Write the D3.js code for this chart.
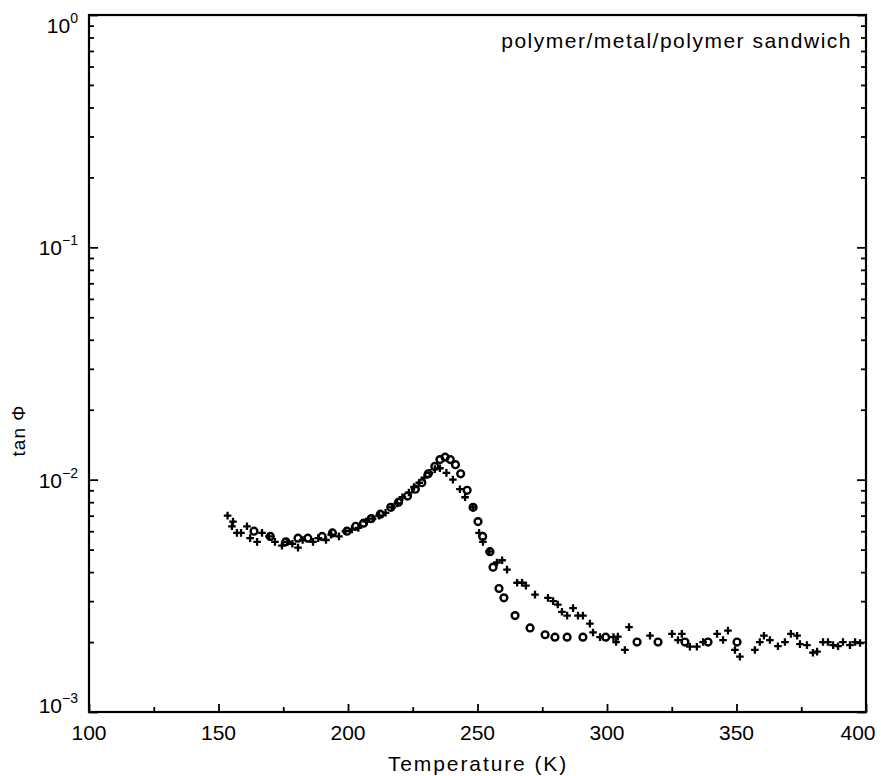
<!DOCTYPE html>
<html><head><meta charset="utf-8">
<script src="https://cdn.jsdelivr.net/npm/d3@7"></script>
<style>
body{margin:0;background:#fff}
text{font-family:"Liberation Sans",Arial,Helvetica,sans-serif;fill:#000}
</style>
</head><body>
<svg id="c" width="881" height="776"></svg>
<script>
// ---- data ----
const circleT=[163.7,170,176,180.7,184.5,190,194,199.6,203,206,209,212.5,216.5,219.5,223,226,228.5,231,233.5,235.5,237.5,239.5,241.5,243.5,246,248.3,250.2,252,254.8,256,258.3,260.2,264.5,270.3,276.1,279.9,284.6,290.7,299.5,311.6,319.7,330.1,339,350.2];
const circleV=[0.0060,0.0057,0.0054,0.0056,0.0056,0.0057,0.0059,0.0060,0.0063,0.0065,0.0068,0.0071,0.0076,0.0080,0.0085,0.0091,0.0097,0.0106,0.0114,0.0122,0.0125,0.0122,0.0116,0.0106,0.0090,0.0076,0.0066,0.0057,0.0049,0.0042,0.0034,0.0031,0.0026,0.0023,0.00215,0.0021,0.0021,0.0021,0.0021,0.0020,0.0020,0.0020,0.0020,0.0020];
const crossT=[153.5,155.6,155.2,157.1,158.7,161,162.2,164.9,166.8,169.5,171.8,174.5,176.5,178.5,180.7,182.5,186.5,188.5,191.5,193.5,196.5,199,201.5,204,207,209.5,212,214.5,217,219,221,223.5,225.5,227.5,229.5,231.5,233.5,235.5,238,240.5,243.2,245.2,248.3,250.6,252.1,254.5,257.5,259.5,261.4,265.3,267.2,268.7,272.2,277.2,279.2,281,282.6,284.6,286.9,288.8,290.7,293.4,294.6,297.3,302.5,303.5,304.2,306.9,308.5,316.6,325.1,327.4,328.9,332,334.7,337.1,342.5,344.8,346.7,349.4,351.3,357.1,359,360.6,362.9,366,368.7,371,373.4,374.5,377.2,379.5,381.1,383.4,385.3,387.3,389.2,391.1,393.8,395.8,397.7];
const crossV=[0.0070,0.0066,0.0063,0.0059,0.0059,0.0063,0.0056,0.0054,0.0059,0.0057,0.0054,0.0052,0.0054,0.0053,0.0051,0.0055,0.0054,0.0056,0.0055,0.0058,0.0057,0.0060,0.0061,0.0062,0.0066,0.0068,0.0070,0.0072,0.0076,0.0079,0.0084,0.0088,0.0093,0.0097,0.0102,0.0107,0.0111,0.0112,0.0107,0.0100,0.0091,0.0084,0.0076,0.0059,0.0054,0.0049,0.0044,0.0045,0.0041,0.0036,0.0036,0.0035,0.0032,0.0031,0.0030,0.0029,0.0027,0.0026,0.0028,0.0026,0.0026,0.0024,0.0022,0.0021,0.0021,0.0020,0.00211,0.00185,0.00232,0.00213,0.00217,0.00204,0.00217,0.00191,0.00191,0.00200,0.00217,0.00204,0.00224,0.00185,0.00173,0.00185,0.00200,0.00213,0.00204,0.00192,0.00200,0.00217,0.00213,0.00196,0.00194,0.00180,0.00182,0.00200,0.00200,0.00194,0.00192,0.00200,0.00194,0.00200,0.00198];
const xMajor=[100,150,200,250,300,350,400];
const xMinor=[125,175,225,275,325,375];
const yMajor=[0.001,0.01,0.1,1];
const yExp=["\u22123","\u22122","\u22121","0"];
const xTitle="Temperature (K)";
const yTitle="tan \u03A6";
const note="polymer/metal/polymer sandwich";

// ---- layout ----
const L=89,R=866,T=15,B=712;
const svg=d3.select("#c");
const x=d3.scaleLinear().domain([100,400]).range([L,R]);
const y=d3.scaleLog().domain([0.001,1]).range([B,T]);
const yMinor=[];
[0.001,0.01,0.1].forEach(d=>{for(let k=2;k<=9;k++)yMinor.push(d*k);});

// frame
svg.append("rect").attr("x",L).attr("y",T).attr("width",R-L).attr("height",B-T)
  .attr("fill","none").attr("stroke","#000").attr("stroke-width",2.2);

function styleAxis(g){g.select(".domain").remove();g.selectAll("line").attr("stroke","#000").attr("stroke-width",1.8);g.selectAll("text").remove();}

// bottom ticks (inward)
svg.append("g").attr("transform",`translate(0,${B})`).call(d3.axisBottom(x).tickValues(xMajor).tickSize(-8)).call(styleAxis);
svg.append("g").attr("transform",`translate(0,${B})`).call(d3.axisBottom(x).tickValues(xMinor).tickSize(-5)).call(styleAxis);
// left ticks (inward)
svg.append("g").attr("transform",`translate(${L},0)`).call(d3.axisLeft(y).tickValues(yMajor).tickSize(-9)).call(styleAxis);
svg.append("g").attr("transform",`translate(${L},0)`).call(d3.axisLeft(y).tickValues(yMinor).tickSize(-5)).call(styleAxis);
// right ticks (inward)
svg.append("g").attr("transform",`translate(${R},0)`).call(d3.axisRight(y).tickValues(yMajor).tickSize(-9)).call(styleAxis);
svg.append("g").attr("transform",`translate(${R},0)`).call(d3.axisRight(y).tickValues(yMinor).tickSize(-5)).call(styleAxis);

// x tick labels (last one kept inside the page)
svg.append("g").selectAll("text").data(xMajor).join("text")
  .attr("x",d=>Math.min(x(d),858)).attr("y",B+28).attr("text-anchor","middle")
  .attr("font-size",21).text(d=>d);

// y tick labels
const yl=svg.append("g").selectAll("text").data(yMajor).join("text")
  .attr("x",L-11).attr("y",(d,i)=>{const p=y(d);return i===3?p+18:(i===0?p+1:p+8);})
  .attr("text-anchor","end").attr("font-size",21);
yl.append("tspan").text("10");
yl.append("tspan").attr("dy",-10).attr("font-size",14).text((d,i)=>yExp[i]);

// axis titles
svg.append("text").attr("x",478).attr("y",771).attr("text-anchor","middle").attr("font-size",21).attr("letter-spacing",1.9).text(xTitle);
svg.append("text").attr("transform",`translate(25,${(T+B)/2+67}) rotate(-90)`).attr("text-anchor","middle").attr("font-size",19).attr("letter-spacing",1).text(yTitle);

// annotation
svg.append("text").attr("x",852).attr("y",48).attr("text-anchor","end").attr("font-size",21).attr("letter-spacing",1.5).text(note);

// crosses
svg.append("g").selectAll("path").data(crossT).join("path")
  .attr("transform",(d,i)=>`translate(${x(d)},${y(crossV[i])})`)
  .attr("d","M-3.8,0H3.8M0,-3.8V3.8").attr("stroke","#000").attr("stroke-width",2.3).attr("fill","none");
// circles
svg.append("g").selectAll("circle").data(circleT).join("circle")
  .attr("cx",d=>x(d)).attr("cy",(d,i)=>y(circleV[i])).attr("r",3.4)
  .attr("fill","none").attr("stroke","#000").attr("stroke-width",2.4);
</script>
</body></html>
